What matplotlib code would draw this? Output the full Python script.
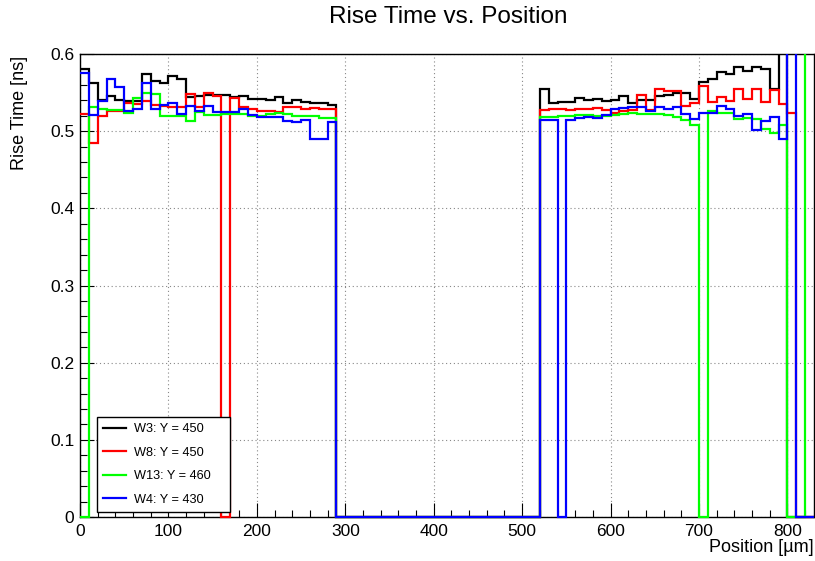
import numpy as np
import matplotlib
matplotlib.use("Agg")
import matplotlib.pyplot as plt
from matplotlib.lines import Line2D
from matplotlib.patches import Rectangle

plt.rcParams['font.family'] = ['Liberation Sans', 'DejaVu Sans']

# 10 um bins from 0 to 830 um
bin_edges = np.arange(0, 840, 10)

# Mean rise time per bin [ns]; empty bins are 0
w3_y450 = [
    0.580, 0.562, 0.541, 0.545, 0.541, 0.539, 0.539, 0.574, 0.565, 0.563,
    0.572, 0.568, 0.544, 0.545, 0.547, 0.547, 0.547, 0.544, 0.546, 0.542,
    0.542, 0.541, 0.544, 0.537, 0.541, 0.538, 0.537, 0.537, 0.534, 0.0,
    0.0, 0.0, 0.0, 0.0, 0.0, 0.0, 0.0, 0.0, 0.0, 0.0,
    0.0, 0.0, 0.0, 0.0, 0.0, 0.0, 0.0, 0.0, 0.0, 0.0,
    0.0, 0.0, 0.554, 0.536, 0.538, 0.538, 0.543, 0.541, 0.542, 0.539,
    0.541, 0.545, 0.536, 0.541, 0.541, 0.546, 0.547, 0.550, 0.549, 0.542,
    0.564, 0.568, 0.577, 0.574, 0.583, 0.578, 0.583, 0.580, 0.554, 0.640,
    0.0, 0.0, 0.0,
]
w8_y450 = [
    0.522, 0.485, 0.520, 0.526, 0.526, 0.537, 0.535, 0.539, 0.534, 0.533,
    0.531, 0.531, 0.548, 0.531, 0.550, 0.546, 0.0, 0.543, 0.531, 0.529,
    0.526, 0.526, 0.525, 0.531, 0.531, 0.529, 0.530, 0.529, 0.529, 0.0,
    0.0, 0.0, 0.0, 0.0, 0.0, 0.0, 0.0, 0.0, 0.0, 0.0,
    0.0, 0.0, 0.0, 0.0, 0.0, 0.0, 0.0, 0.0, 0.0, 0.0,
    0.0, 0.0, 0.528, 0.529, 0.529, 0.528, 0.529, 0.529, 0.530, 0.528,
    0.524, 0.526, 0.528, 0.547, 0.528, 0.554, 0.552, 0.552, 0.533, 0.536,
    0.558, 0.538, 0.544, 0.539, 0.555, 0.542, 0.555, 0.538, 0.553, 0.535,
    0.524, 0.0, 0.0,
]
w13_y460 = [
    0.0, 0.531, 0.529, 0.527, 0.527, 0.524, 0.543, 0.550, 0.548, 0.520,
    0.520, 0.520, 0.513, 0.525, 0.521, 0.521, 0.522, 0.522, 0.522, 0.520,
    0.520, 0.522, 0.523, 0.522, 0.520, 0.520, 0.520, 0.517, 0.517, 0.0,
    0.0, 0.0, 0.0, 0.0, 0.0, 0.0, 0.0, 0.0, 0.0, 0.0,
    0.0, 0.0, 0.0, 0.0, 0.0, 0.0, 0.0, 0.0, 0.0, 0.0,
    0.0, 0.0, 0.519, 0.518, 0.520, 0.520, 0.521, 0.521, 0.520, 0.520,
    0.521, 0.522, 0.524, 0.522, 0.522, 0.522, 0.521, 0.519, 0.514, 0.508,
    0.0, 0.526, 0.524, 0.523, 0.516, 0.517, 0.516, 0.503, 0.497, 0.508,
    0.0, 0.0, 0.640,
]
w4_y430 = [
    0.576, 0.521, 0.539, 0.567, 0.557, 0.526, 0.529, 0.563, 0.529, 0.534,
    0.536, 0.522, 0.532, 0.526, 0.532, 0.525, 0.525, 0.525, 0.529, 0.521,
    0.519, 0.519, 0.518, 0.513, 0.512, 0.515, 0.490, 0.490, 0.512, 0.0,
    0.0, 0.0, 0.0, 0.0, 0.0, 0.0, 0.0, 0.0, 0.0, 0.0,
    0.0, 0.0, 0.0, 0.0, 0.0, 0.0, 0.0, 0.0, 0.0, 0.0,
    0.0, 0.0, 0.515, 0.514, 0.0, 0.514, 0.517, 0.518, 0.517, 0.521,
    0.529, 0.530, 0.531, 0.531, 0.526, 0.531, 0.529, 0.531, 0.522, 0.516,
    0.523, 0.524, 0.532, 0.529, 0.520, 0.522, 0.502, 0.513, 0.519, 0.490,
    0.640, 0.0, 0.0,
]

series = [
    (w3_y450, "black", "W3: Y = 450"),
    (w8_y450, "#ff0000", "W8: Y = 450"),
    (w13_y460, "#00ff00", "W13: Y = 460"),
    (w4_y430, "#0000ff", "W4: Y = 430"),
]

fig = plt.figure(figsize=(8.15, 5.61), dpi=100)
ax = fig.add_axes([80 / 815, 44 / 561, 734 / 815, 463 / 561])

# let the zero-level lines show fully on top of the bottom frame
clip = Rectangle((0, -0.01), 1, 1.01, transform=ax.transAxes,
                 facecolor='none', edgecolor='none')

handles = []
for vals, col, lab in series:
    st = ax.stairs(vals, bin_edges, baseline=None, color=col, lw=1.6, zorder=3)
    st.set_clip_path(clip)
    handles.append(Line2D([], [], color=col, lw=1.6))

ax.set_xlim(0, 830)
ax.set_ylim(0, 0.6)

ax.set_xticks(np.arange(0, 900, 100))
ax.set_xticks(np.arange(0, 840, 20), minor=True)
ax.set_yticks([0, 0.1, 0.2, 0.3, 0.4, 0.5, 0.6])
ax.set_yticklabels(['0', '0.1', '0.2', '0.3', '0.4', '0.5', '0.6'])
ax.set_yticks(np.arange(0, 0.61, 0.02), minor=True)

ax.tick_params(which='both', direction='in', top=False, right=False,
               labelsize=12.5, width=0.8)
ax.tick_params(which='major', length=10)
ax.tick_params(which='minor', length=5)
ax.tick_params(axis='x', pad=5)
ax.tick_params(axis='y', pad=4)

for sp in ax.spines.values():
    sp.set_linewidth(1.0)

ax.grid(True, which='major', color='#888888', linestyle=(0, (1, 2.5)), lw=0.8)

fig.text(448 / 815, 1 - 17 / 561, "Rise Time vs. Position",
         ha='center', va='center', fontsize=17.5)
fig.text(814 / 815, 1 - 548 / 561, "Position [µm]",
         ha='right', va='center', fontsize=13)
fig.text(20 / 815, 1 - 56 / 561, "Rise Time [ns]", rotation=90,
         ha='center', va='top', fontsize=13)

leg = ax.legend(handles, [s[2] for s in series], loc='lower left',
                bbox_to_anchor=(0.0231, 0.0108, 0.1811, 0.2095), mode='expand',
                borderaxespad=0, fancybox=False, framealpha=1,
                edgecolor='black', fontsize=9.2, handlelength=1.8,
                handletextpad=0.6, labelspacing=0.9, borderpad=0.5)
leg.get_frame().set_linewidth(1.0)
leg.set_zorder(5)

fig.savefig('out.png', dpi=100)
